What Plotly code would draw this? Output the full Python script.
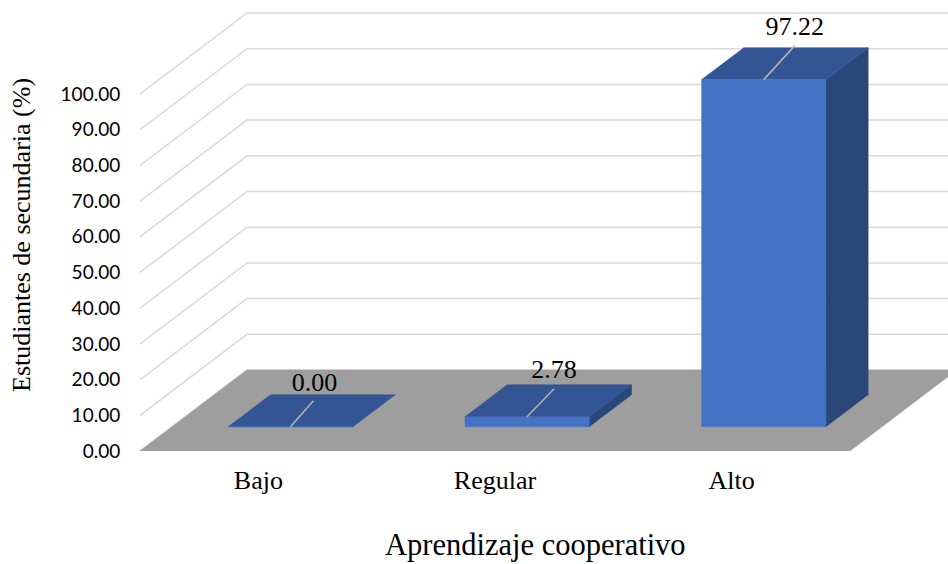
import plotly.graph_objects as go

categories = ["Bajo", "Regular", "Alto"]
values = [0.00, 2.78, 97.22]
value_labels = ["0.00", "2.78", "97.22"]
y_ticks = [0, 10, 20, 30, 40, 50, 60, 70, 80, 90, 100]
x_title = "Aprendizaje cooperativo"
y_title = "Estudiantes de secundaria (%)"

# oblique projection, in axis units
PX_X = 236.67
PX_Y = 3.57
DEPTH_X = 107 / PX_X
DEPTH_Y = 81 / PX_Y
BAR_W = 0.525
BAR_D0 = 0.30
BAR_D1 = 0.695
PLOT_H = 451
PLOT_W = 808
XMIN, XMAX = -0.5, -0.5 + PLOT_W / PX_X
YMAX = PLOT_H / PX_Y

# label leader offsets from front-top centre of a bar (px): tip dx, tip dy, text dx, text dy
LEADERS = [(23, 26, 24, 42), (27, 28, 27, 45), (31, 34, 31, 51)]


def proj(x, v, d):
    return x + d * DEPTH_X, v + d * DEPTH_Y


def poly(points, color, name, line=None):
    xs, ys = zip(*points)
    return go.Scatter(x=list(xs) + [xs[0]], y=list(ys) + [ys[0]], mode="lines", fill="toself",
                      fillcolor=color, line=dict(color=line or color, width=0.5),
                      hoverinfo="skip", showlegend=False, name=name)


fig = go.Figure()

for t in y_ticks:
    a = proj(XMIN, t, 0)
    b = proj(XMIN, t, 1)
    fig.add_trace(go.Scatter(x=[a[0], b[0], XMAX], y=[a[1], b[1], b[1]], mode="lines",
                             line=dict(color="#d9d9d9", width=1.5), hoverinfo="skip", showlegend=False))

fig.add_trace(poly([proj(XMIN, 0, 0), proj(XMIN + 3, 0, 0), proj(XMIN + 3, 0, 1), proj(XMIN, 0, 1)],
                   "#9e9e9e", "floor"))

annotations = []
for i, (cat, v, lab) in enumerate(zip(categories, values, value_labels)):
    l, r = i - BAR_W / 2, i + BAR_W / 2
    fig.add_trace(poly([proj(r, 0, BAR_D0), proj(r, 0, BAR_D1), proj(r, v, BAR_D1), proj(r, v, BAR_D0)],
                       "#2a4779", cat + " side"))
    fig.add_trace(poly([proj(l, v, BAR_D0), proj(r, v, BAR_D0), proj(r, v, BAR_D1), proj(l, v, BAR_D1)],
                       "#335593", cat + " top"))
    fig.add_trace(poly([proj(l, 0, BAR_D0), proj(r, 0, BAR_D0), proj(r, v, BAR_D0), proj(l, v, BAR_D0)],
                       "#4472c4", cat + " front"))
    cx, cy = proj(i, v, BAR_D0)
    tdx, tdy, ldx, ldy = LEADERS[i]
    fig.add_trace(go.Scatter(x=[cx, cx + tdx / PX_X], y=[cy, cy + tdy / PX_Y], mode="lines",
                             line=dict(color="#b5b5b5", width=1.5), hoverinfo="skip", showlegend=False))
    fig.add_trace(go.Scatter(x=[cx + ldx / PX_X], y=[cy + ldy / PX_Y], mode="text", text=[lab],
                             textposition="middle center",
                             textfont=dict(family="Liberation Serif", size=26, color="#000000"),
                             hoverinfo="skip", showlegend=False))

annotations.append(dict(text=x_title, xref="paper", yref="paper", x=(535 - 140) / PLOT_W, y=-(545 - 451) / PLOT_H,
                        showarrow=False, xanchor="center", yanchor="middle",
                        font=dict(family="Liberation Serif", size=30.5, color="#000000")))
annotations.append(dict(text=y_title, xref="paper", yref="paper", x=(22 - 140) / PLOT_W, y=(451 - 235) / PLOT_H,
                        showarrow=False, textangle=-90, xanchor="center", yanchor="middle",
                        font=dict(family="Liberation Serif", size=26, color="#000000")))

fig.update_layout(
    width=948, height=564, margin=dict(l=140, r=0, t=0, b=113),
    paper_bgcolor="white", plot_bgcolor="white", showlegend=False,
    annotations=annotations,
    xaxis=dict(range=[XMIN, XMAX], tickvals=[0, 1, 2], ticktext=categories, showgrid=False, zeroline=False,
               showline=False, ticks="outside", ticklen=6, tickcolor="rgba(0,0,0,0)",
               tickfont=dict(family="Liberation Serif", size=26, color="#000000")),
    yaxis=dict(range=[0, YMAX], tickvals=y_ticks, tickformat=".2f", showgrid=False, zeroline=False,
               showline=False, ticks="outside", ticklen=15, tickcolor="rgba(0,0,0,0)",
               tickfont=dict(family="Lato", size=19, color="#000000")),
)
fig.write_html("out.html", config={"displayModeBar": False},
               post_script="document.body.style.margin='0';document.body.style.overflow='hidden';")
